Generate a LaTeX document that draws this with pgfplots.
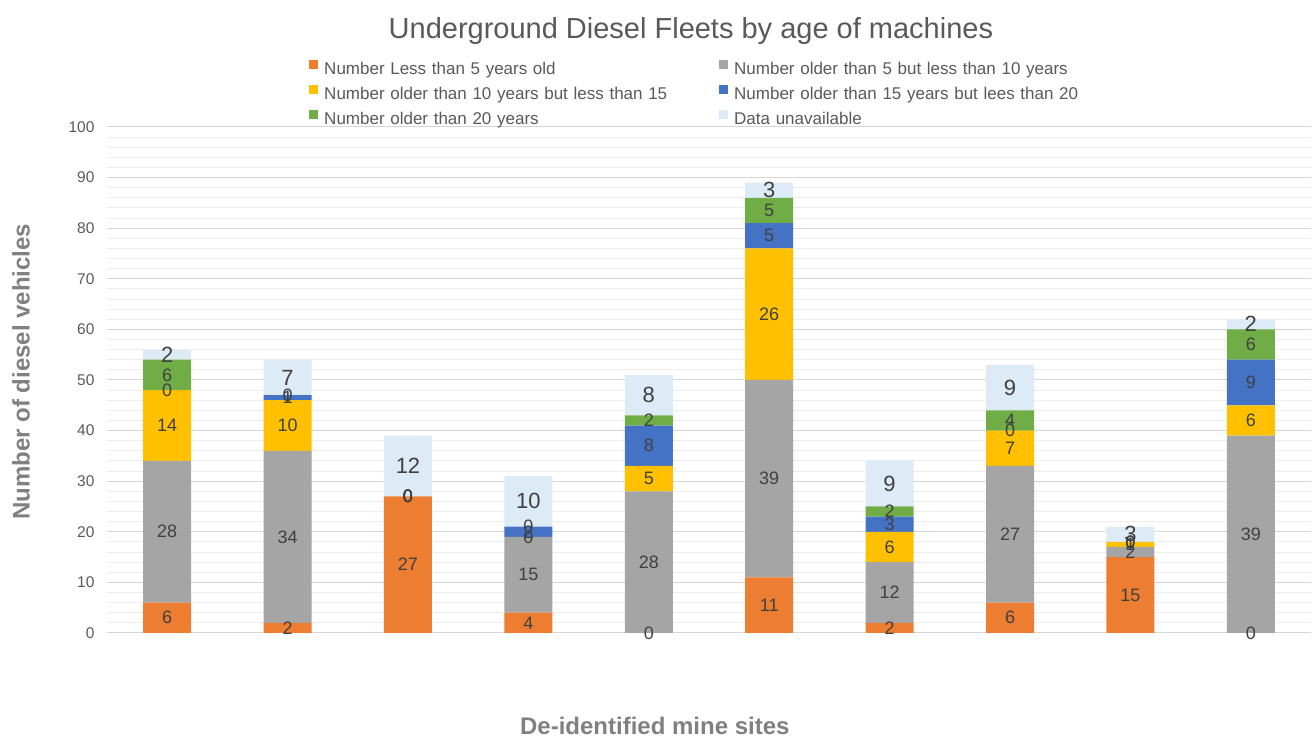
\documentclass[border=0pt]{standalone}
\usepackage{fontspec}
\setmainfont{Liberation Sans}
\usepackage{pgfplots}
\pgfplotsset{compat=1.18}
\usepackage{pgfplotstable}

\definecolor{cOr}{HTML}{ED7D31}
\definecolor{cGy}{HTML}{A5A5A5}
\definecolor{cYe}{HTML}{FFC000}
\definecolor{cBl}{HTML}{4472C4}
\definecolor{cGr}{HTML}{70AD47}
\definecolor{cLt}{HTML}{DDEBF7}
\definecolor{txt}{HTML}{595959}
\definecolor{lab}{HTML}{404040}
\definecolor{axl}{HTML}{808080}

\pgfplotstableread{
x O G Y B Gr L
0 6 28 14 0 6 2
1 2 34 10 1 0 7
2 27 0 0 0 0 12
3 4 15 0 2 0 10
4 0 28 5 8 2 8
5 11 39 26 5 5 3
6 2 12 6 3 2 9
7 6 27 7 0 4 9
8 15 2 1 0 0 3
9 0 39 6 9 6 2
}\data

\pgfplotstableread{
x y l
0 3 6
0 20 28
0 41 14
0 48 0
0 51 6
1 1 2
1 19 34
1 41 10
1 46.5 1
1 47 0
2 13.5 27
2 27 0
2 27 0
2 27 0
2 27 0
3 2 4
3 11.5 15
3 19 0
3 20 2
3 21 0
4 0 0
4 14 28
4 30.5 5
4 37 8
4 42 2
5 5.5 11
5 30.5 39
5 63 26
5 78.5 5
5 83.5 5
6 1 2
6 8 12
6 17 6
6 21.5 3
6 24 2
7 3 6
7 19.5 27
7 36.5 7
7 40 0
7 42 4
8 7.5 15
8 16 2
8 17.5 1
8 18 0
8 18 0
9 0 0
9 19.5 39
9 42 6
9 49.5 9
9 57 6
}\smalllabels

\pgfplotstableread{
x y l
0 55 2
1 50.5 7
2 33 12
3 26 10
4 47 8
5 87.5 3
6 29.5 9
7 48.5 9
8 19.5 3
9 61 2
}\biglabels

\pgfplotsset{
  common/.style={
    scale only axis,
    width=1204pt, height=506pt,
    xmin=-0.5, xmax=9.5,
    ymin=0, ymax=100,
  }
}

\begin{document}
\begin{tikzpicture}
\begin{axis}[
  common,
  name=main,
  ybar stacked,
  bar width=48pt,
  xtick=\empty,
  ytick={0,10,...,100},
  minor y tick num=4,
  ymajorgrids, yminorgrids,
  major grid style={color=black!16, line width=1pt},
  minor grid style={color=black!7, line width=1pt},
  axis line style={draw=none},
  major tick length=0pt, minor tick length=0pt,
  /pgf/number format/assume math mode=true,
  yticklabel style={font=\fontsize{15.5}{18}\selectfont, color=txt, xshift=-9pt},
  title={Underground Diesel Fleets by age of machines},
  title style={font=\fontsize{29}{34}\selectfont, color=txt, at={(0.485,1.178)}, anchor=center},
  xlabel={De-identified mine sites},
  xlabel style={font=\fontsize{24}{28}\selectfont\bfseries, color=axl, at={(0.455,-0.184)}, anchor=center},
  ylabel={Number of diesel vehicles},
  ylabel style={font=\fontsize{24}{28}\selectfont\bfseries, color=axl, at={(-0.0714,0.516)}, anchor=center},
  legend columns=2,
  legend cell align=left,
  legend image code/.code={\fill[#1] (0pt,1.5pt) rectangle (9pt,10.5pt);},
  legend style={draw=none, fill=none, inner sep=0pt,
    at={(0.1678,1.1324)}, anchor=north west,
    font=\fontsize{17}{20}\selectfont, text=txt,
    nodes={inner sep=0pt, text height=12pt, text depth=4pt},
    row sep=6.5pt,
    /tikz/every odd column/.append style={column sep=6pt},
    /tikz/every even column/.append style={column sep=15pt, text width=380pt},
  },
]
\addplot[fill=cOr, draw=none] table[x=x, y=O] {\data};
\addlegendentry{Number Less than 5 years old}
\addplot[fill=cGy, draw=none] table[x=x, y=G] {\data};
\addlegendentry{Number older than 5 but less than 10 years}
\addplot[fill=cYe, draw=none] table[x=x, y=Y] {\data};
\addlegendentry{Number older than 10 years but less than 15}
\addplot[fill=cBl, draw=none] table[x=x, y=B] {\data};
\addlegendentry{Number older than 15 years but lees than 20}
\addplot[fill=cGr, draw=none] table[x=x, y=Gr] {\data};
\addlegendentry{Number older than 20 years}
\addplot[fill=cLt, draw=none] table[x=x, y=L] {\data};
\addlegendentry{Data unavailable}
\end{axis}
\begin{axis}[
  common,
  hide axis,
  clip=false,
]
\addplot[draw=none, mark=none, nodes near coords, nodes near coords align=center,
  point meta=explicit symbolic,
  every node near coord/.append style={font=\fontsize{18}{20}\selectfont, text=lab, inner sep=0pt}]
  table[x=x, y=y, meta=l] {\smalllabels};
\addplot[draw=none, mark=none, nodes near coords, nodes near coords align=center,
  point meta=explicit symbolic,
  every node near coord/.append style={font=\fontsize{22}{24}\selectfont, text=lab, inner sep=0pt}]
  table[x=x, y=y, meta=l] {\biglabels};
\end{axis}
\pgfresetboundingbox
\path[use as bounding box] ([xshift=-107pt,yshift=-105pt]main.south west) rectangle ([xshift=3pt,yshift=127pt]main.north east);
\end{tikzpicture}
\end{document}
